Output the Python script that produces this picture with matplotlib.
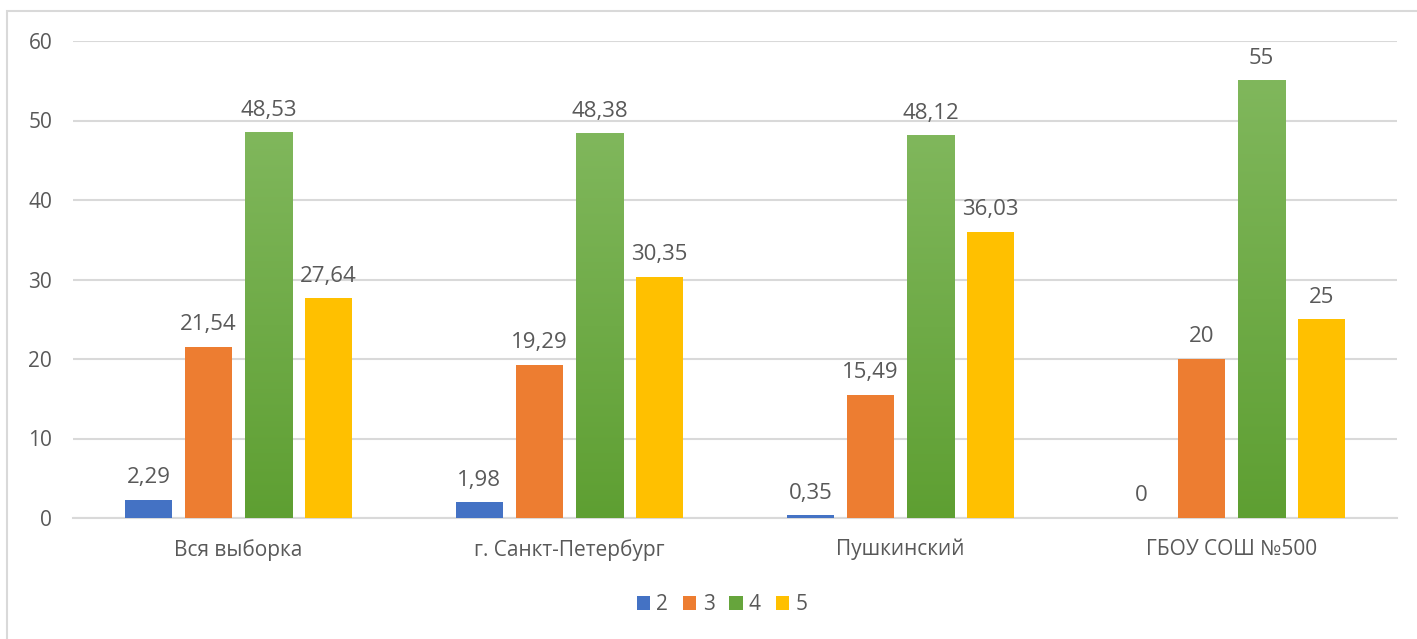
import matplotlib.pyplot as plt
import matplotlib.patheffects as pe
from matplotlib.colors import LinearSegmentedColormap
from matplotlib.patches import Rectangle, Patch
import numpy as np

# данные
categories = ['Вся выборка', 'г. Санкт-Петербург', 'Пушкинский', 'ГБОУ СОШ №500']
series_names = ['2', '3', '4', '5']
vals_2 = [2.29, 1.98, 0.35, 0]
vals_3 = [21.54, 19.29, 15.49, 20]
vals_4 = [48.53, 48.38, 48.12, 55]
vals_5 = [27.64, 30.35, 36.03, 25]
labels_2 = ['2,29', '1,98', '0,35', '0']
labels_3 = ['21,54', '19,29', '15,49', '20']
labels_4 = ['48,53', '48,38', '48,12', '55']
labels_5 = ['27,64', '30,35', '36,03', '25']

series = [vals_2, vals_3, vals_4, vals_5]
series_labels = [labels_2, labels_3, labels_4, labels_5]
colors = ['#4472C4', '#ED7D31', '#70AD47', '#FFC000']
grey = '#595959'

plt.rcParams['font.family'] = ['Open Sans', 'DejaVu Sans']

fig = plt.figure(figsize=(14.17, 6.39), dpi=100)
ax = fig.add_axes([73 / 1417, 1 - 518 / 639, 1324 / 1417, 477 / 639])

# рамка диаграммы (частично обрезана)
fig.patches.append(Rectangle((7 / 1417, -0.2), 1.2, 1.2 - 11 / 639, transform=fig.transFigure,
                             fill=False, edgecolor='#D9D9D9', linewidth=1.5, zorder=0))

x = np.arange(len(categories))
width = 0.142
step = 0.1815
offsets = [-1.5 * step, -0.5 * step, 0.5 * step, 1.5 * step]

green_cmap = LinearSegmentedColormap.from_list('g', ['#5E9F32', '#80B75C'])

for i, (vals, labs, col) in enumerate(zip(series, series_labels, colors)):
    pos = x + offsets[i]
    if i == 2:
        bars = ax.bar(pos, vals, width, color=col, zorder=3,
                      path_effects=[pe.SimplePatchShadow(offset=(0, 0), shadow_rgbFace='#000000', alpha=0.25), pe.Normal()])
        grad = np.linspace(0, 1, 256).reshape(-1, 1)
        for b in bars:
            ax.imshow(grad, cmap=green_cmap, origin='lower', aspect='auto', zorder=3.5,
                      extent=[b.get_x(), b.get_x() + b.get_width(), 0, b.get_height()])
    else:
        ax.bar(pos, vals, width, color=col, zorder=3)
    for p, v, t in zip(pos, vals, labs):
        ax.annotate(t, (p, v), xytext=(0, 12), textcoords='offset points',
                    ha='center', va='baseline', fontsize=16, color=grey, zorder=5)

ax.set_xlim(-0.5, len(categories) - 0.5)
ax.set_ylim(0, 60)
ax.set_yticks(range(0, 61, 10))
ax.set_xticks(x)
ax.set_xticklabels(categories)
ax.tick_params(axis='both', length=0, labelsize=15, colors=grey)
ax.tick_params(axis='y', pad=15)
ax.tick_params(axis='x', pad=15)
ax.grid(axis='y', color='#D9D9D9', linewidth=1.5, zorder=0)
ax.set_axisbelow(True)
for s in ['top', 'right', 'left']:
    ax.spines[s].set_visible(False)
ax.spines['bottom'].set_color('#D9D9D9')
ax.spines['bottom'].set_linewidth(1.5)

handles = [Patch(facecolor=c, edgecolor='none') for c in ['#4472C4', '#ED7D31', '#66A53C', '#FFC000']]
fig.legend(handles, series_names, loc='center', bbox_to_anchor=(722 / 1417, 1 - 605 / 639),
           ncol=4, frameon=False, fontsize=15, labelcolor=grey, handlelength=0.65, handleheight=0.65,
           handletextpad=0.3, columnspacing=0.7)

fig.savefig('out.png', dpi=100)
